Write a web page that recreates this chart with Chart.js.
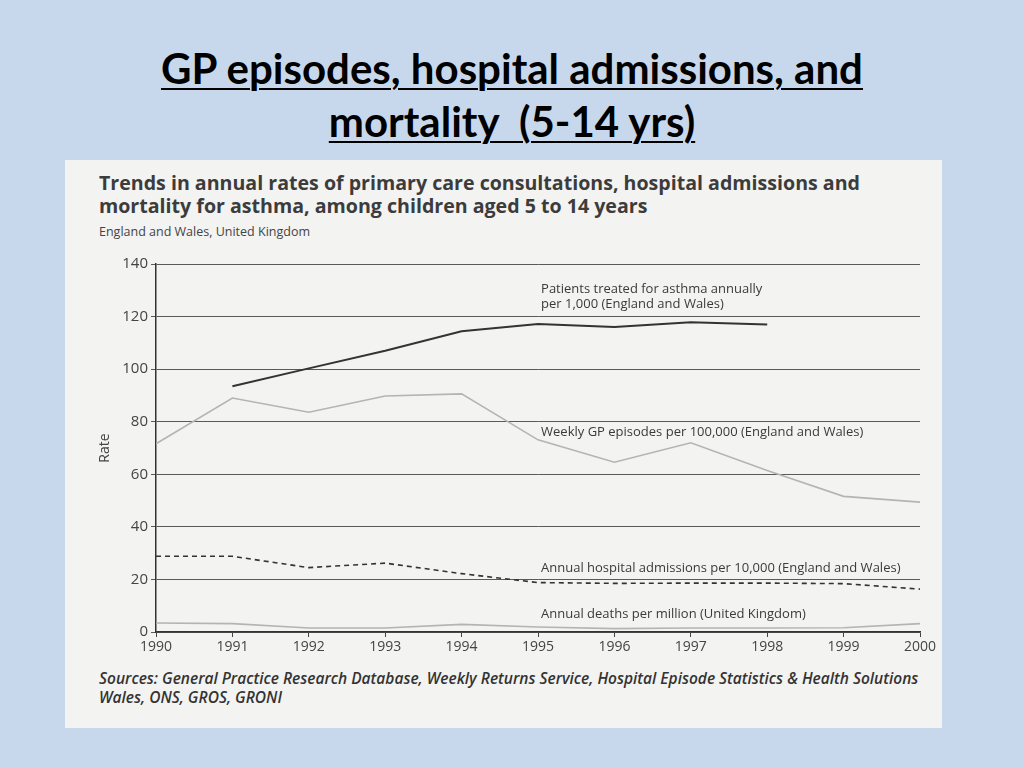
<!DOCTYPE html>
<html>
<head>
<meta charset="utf-8">
<script src="https://cdn.jsdelivr.net/npm/chart.js@4.4.1/dist/chart.umd.min.js"></script>
<style>
  html, body { margin: 0; padding: 0; }
  body { width: 1024px; height: 768px; background: #c8d8ec; position: relative; overflow: hidden; font-family: "Open Sans", sans-serif; }
  #slideTitle { position: absolute; left: 0; top: 42px; width: 1024px; text-align: center; font-family: Lato, "Open Sans", sans-serif; font-weight: bold; font-size: 42px; line-height: 53px; color: #000; text-decoration: underline; text-decoration-thickness: 2px; text-underline-offset: 4px; }
  #panel { position: absolute; left: 65px; top: 160px; width: 877px; height: 568px; background: #f3f3f2; }
  #chartTitle { position: absolute; left: 99px; top: 171px; font-family: "Open Sans", sans-serif; font-weight: bold; font-size: 19.6px; line-height: 23px; color: #3c3c3c; white-space: nowrap; }
  #chartSub { position: absolute; left: 99px; top: 223px; font-family: "Open Sans", sans-serif; font-size: 12.5px; color: #444; white-space: nowrap; }
  #sources { position: absolute; left: 99px; top: 669px; font-family: "Open Sans", sans-serif; font-weight: 600; font-style: italic; font-size: 15.5px; line-height: 19px; color: #333; white-space: nowrap; }
  #wrap { position: absolute; left: 65px; top: 245px; width: 877px; height: 420px; }
</style>
</head>
<body>
<div id="slideTitle">GP episodes, hospital admissions, and<br>mortality&nbsp; (5-14 yrs)</div>
<div id="panel"></div>
<div id="chartTitle">Trends in annual rates of primary care consultations, hospital admissions and<br>mortality for asthma, among children aged 5 to 14 years</div>
<div id="chartSub">England and Wales, United Kingdom</div>
<div id="wrap"><canvas id="c" width="877" height="420"></canvas></div>
<div id="sources">Sources: General Practice Research Database, Weekly Returns Service, Hospital Episode Statistics &amp; Health Solutions<br>Wales, ONS, GROS, GRONI</div>
<script>
// ---- data ----
const years = [1990, 1991, 1992, 1993, 1994, 1995, 1996, 1997, 1998, 1999, 2000];
const patientsYears = [1991, 1992, 1993, 1994, 1995, 1996, 1997, 1998];
const patientsTreated = [93.5, 100.3, 107, 114.4, 117.2, 116, 117.8, 117];
const gpEpisodes = [71.6, 89, 83.6, 89.8, 90.6, 73.1, 64.6, 72, 61.4, 51.6, 49.4];
const hospitalAdmissions = [28.8, 28.8, 24.5, 26.2, 22.2, 18.8, 18.5, 18.6, 18.6, 18.4, 16.3];
const deaths = [3.4, 3.2, 1.5, 1.5, 2.9, 1.9, 1.3, 1.5, 1.5, 1.6, 3.2];
const yTicks = [0, 20, 40, 60, 80, 100, 120, 140];
const seriesLabels = [
  ["Patients treated for asthma annually", "per 1,000 (England and Wales)"],
  ["Weekly GP episodes per 100,000 (England and Wales)"],
  ["Annual hospital admissions per 10,000 (England and Wales)"],
  ["Annual deaths per million (United Kingdom)"]
];
const axisTitle = "Rate";

// label anchor positions (in data units)
const labelAnchors = [
  { x: 1995.04, y: 130.3 },
  { x: 1995.04, y: 76.1 },
  { x: 1995.04, y: 24.3 },
  { x: 1995.04, y: 6.7 }
];

const toXY = (xs, ys) => xs.map((x, i) => ({ x: x, y: ys[i] }));

const labelPlugin = {
  id: 'seriesLabels',
  afterDatasetsDraw(chart) {
    const ctx = chart.ctx;
    const xs = chart.scales.x, ys = chart.scales.y;
    ctx.save();
    ctx.fillStyle = '#3a3a3a';
    ctx.font = '13px "Open Sans", sans-serif';
    ctx.textBaseline = 'middle';
    ctx.textAlign = 'left';
    seriesLabels.forEach((lines, i) => {
      const px = xs.getPixelForValue(labelAnchors[i].x);
      const py = ys.getPixelForValue(labelAnchors[i].y);
      lines.forEach((t, j) => ctx.fillText(t, px, py + j * 15));
    });
    ctx.restore();
  }
};

new Chart(document.getElementById('c'), {
  type: 'line',
  data: {
    datasets: [
      { data: toXY(patientsYears, patientsTreated), borderColor: '#333333', borderWidth: 2, pointRadius: 0, tension: 0 },
      { data: toXY(years, gpEpisodes), borderColor: '#b4b4b4', borderWidth: 1.6, pointRadius: 0, tension: 0 },
      { data: toXY(years, hospitalAdmissions), borderColor: '#333333', borderWidth: 1.6, borderDash: [5, 4], pointRadius: 0, tension: 0 },
      { data: toXY(years, deaths), borderColor: '#b4b4b4', borderWidth: 1.6, pointRadius: 0, tension: 0 }
    ]
  },
  options: {
    responsive: false,
    animation: false,
    layout: { padding: { top: 19, right: 22, left: 0, bottom: 0 } },
    plugins: { legend: { display: false }, tooltip: { enabled: false } },
    scales: {
      x: {
        type: 'linear', min: 1990, max: 2000,
        afterFit(s) { s.height = 33; },
        ticks: { stepSize: 1, color: '#444', font: { size: 14, family: '"Open Sans", sans-serif' }, callback: v => String(v), maxRotation: 0, padding: 2 },
        grid: { drawOnChartArea: false, drawTicks: true, tickLength: 5, color: '#444' },
        border: { display: true, color: '#333', width: 1.5 }
      },
      y: {
        min: 0, max: 140,
        afterFit(s) { s.width = 91; },
        afterBuildTicks(s) { s.ticks = yTicks.map(v => ({ value: v })); },
        ticks: { color: '#444', font: { size: 15, family: '"Open Sans", sans-serif' }, padding: 3 },
        grid: { color: '#5a5a5a', lineWidth: 1, drawTicks: true, tickLength: 5 },
        border: { display: true, color: '#333', width: 1.5 },
        title: { display: true, text: axisTitle, color: '#444', font: { size: 14, family: '"Open Sans", sans-serif' }, padding: { top: 32, bottom: 0 } }
      }
    }
  },
  plugins: [labelPlugin]
});
</script>
</body>
</html>
